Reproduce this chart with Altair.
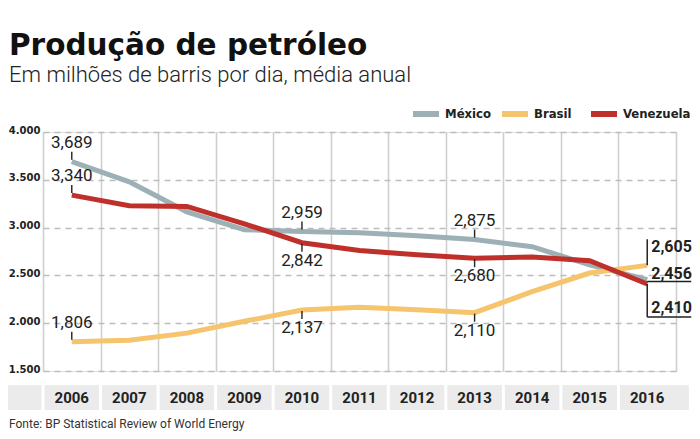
import altair as alt
import pandas as pd

# ---- data ----
years = [2006, 2007, 2008, 2009, 2010, 2011, 2012, 2013, 2014, 2015, 2016]
mexico = [3689, 3479, 3165, 2978, 2959, 2945, 2915, 2875, 2800, 2610, 2456]
brasil = [1806, 1822, 1896, 2020, 2137, 2167, 2140, 2110, 2330, 2525, 2605]
venezuela = [3340, 3229, 3222, 3040, 2842, 2760, 2715, 2680, 2692, 2654, 2410]
series_names = ["México", "Brasil", "Venezuela"]
series_colors = ["#9cb0b5", "#f5c46c", "#c0302b"]
y_ticks = [1500, 2000, 2500, 3000, 3500, 4000]

# annotated points: (series, year, position)
annot_series = ["México", "Venezuela", "Brasil", "México", "Venezuela", "Brasil",
                "México", "Venezuela", "Brasil"]
annot_years = [2006, 2006, 2006, 2010, 2010, 2010, 2013, 2013, 2013]
annot_pos = ["above", "above", "above", "above", "below", "below",
             "above", "below", "below"]

title = "Produção de petróleo"
subtitle = "Em milhões de barris por dia, média anual"
source = "Fonte: BP Statistical Review of World Energy"

# layout constants (pixels)
W, H = 633, 239
legend_x = [370, 459, 548]   # swatch left edge of each legend entry
legend_y = -18

values = {"México": mexico, "Brasil": brasil, "Venezuela": venezuela}
rows = []
for s in series_names:
    for yr, v in zip(years, values[s]):
        rows.append({"series": s, "year": yr, "value": v})
df = pd.DataFrame(rows)

ann = pd.DataFrame({
    "series": annot_series,
    "year": annot_years,
    "pos": annot_pos,
})
ann["value"] = [values[s][years.index(y)] for s, y in zip(annot_series, annot_years)]
ann_above = ann[ann.pos == "above"]
ann_below = ann[ann.pos == "below"]

last = df[df.year == years[-1]].copy()

label_expr = "replace(format(datum.value/1000,'.3f'),'.',',')"

x_scale = alt.Scale(domain=[years[0] - 0.5, years[-1] + 0.5], nice=False, zero=False)
y_scale = alt.Scale(domain=[y_ticks[0], y_ticks[-1]], nice=False, zero=False)
color_scale = alt.Scale(domain=series_names, range=series_colors)

X = alt.X("year:Q", scale=x_scale,
          axis=alt.Axis(values=[y - 0.5 for y in years] + [years[-1] + 0.5],
                        labels=False, ticks=False, domain=False, title=None,
                        grid=True, gridColor="#cfcfcf", gridWidth=1.6))
Y = alt.Y("value:Q", scale=y_scale,
          axis=alt.Axis(values=y_ticks, title=None, ticks=False, domain=False,
                        grid=True, gridDash=[6, 5], gridColor="#bdbdbd", gridWidth=1.3,
                        labelExpr="format(datum.value/1000,'.3f')",
                        labelFont="DejaVu Sans", labelFontWeight="bold",
                        labelFontSize=10, labelColor="#222",
                        labelBaseline="alphabetic", labelPadding=3,
                        labelOffset=1))

# cells behind year labels
cell_rows = [{"lo": years[0] - 1.2, "hi": years[0] - 0.5}]
for i, yr in enumerate(years):
    cell_rows.append({"lo": yr - 0.5, "hi": yr + (0.75 if i == len(years) - 1 else 0.5)})
cells = alt.Chart(pd.DataFrame(cell_rows)).mark_rect(
    color="#ebebeb", xOffset=1.5, x2Offset=-1.5).encode(
    x=alt.X("lo:Q", scale=x_scale), x2="hi:Q",
    y=alt.value(H + 14), y2=alt.value(H + 39))

year_labels = alt.Chart(pd.DataFrame({"year": years})).mark_text(
    font="Roboto", fontWeight="bold", fontSize=15, color="#222", baseline="middle"
).encode(x=alt.X("year:Q", scale=x_scale), y=alt.value(H + 27), text="year:N")

base = alt.Chart(df)
lines = base.mark_line(strokeWidth=5, strokeCap="butt").encode(
    x=X, y=Y,
    color=alt.Color("series:N", scale=color_scale, legend=None),
    detail="series:N",
)

# manual legend
legend_layers = []
for name, lx in zip(series_names, legend_x):
    ld = pd.DataFrame({"series": [name]})
    legend_layers.append(alt.Chart(ld).mark_rule(strokeWidth=6).encode(
        x=alt.value(lx), x2=alt.value(lx + 26), y=alt.value(legend_y),
        color=alt.Color("series:N", scale=color_scale, legend=None)))
    legend_layers.append(alt.Chart(ld).mark_text(
        align="left", baseline="middle", font="DejaVu Sans Condensed",
        fontWeight="bold", fontSize=13, color="#222").encode(
        x=alt.value(lx + 32), y=alt.value(legend_y), text="series:N"))

tick_above = alt.Chart(ann_above).mark_rule(
    color="#222", strokeWidth=1.4, yOffset=-2, y2Offset=-10).encode(
    x=alt.X("year:Q", scale=x_scale), y=alt.Y("value:Q", scale=y_scale), y2="value:Q")
tick_below = alt.Chart(ann_below).mark_rule(
    color="#222", strokeWidth=1.4, yOffset=1, y2Offset=9).encode(
    x=alt.X("year:Q", scale=x_scale), y=alt.Y("value:Q", scale=y_scale), y2="value:Q")

txt_kw = dict(font="Roboto", fontSize=17, color="#222")
text_above = alt.Chart(ann_above).mark_text(baseline="bottom", dy=-10, **txt_kw).transform_calculate(
    lbl=label_expr).encode(
    x=alt.X("year:Q", scale=x_scale), y=alt.Y("value:Q", scale=y_scale), text="lbl:N")
text_below = alt.Chart(ann_below).mark_text(baseline="top", dy=10, **txt_kw).transform_calculate(
    lbl=label_expr).encode(
    x=alt.X("year:Q", scale=x_scale), y=alt.Y("value:Q", scale=y_scale), text="lbl:N")

# 2016 end labels with brackets
def sub(name):
    return last[last.series == name]

end_kw = dict(font="Roboto", fontWeight="bold", fontSize=16, color="#222", align="left", dx=4)
br_v = alt.Chart(sub("Brasil")).mark_rule(color="#222", strokeWidth=1.5, y2Offset=-26).encode(
    x=alt.X("year:Q", scale=x_scale), y=alt.Y("value:Q", scale=y_scale), y2="value:Q")
br_t = alt.Chart(sub("Brasil")).mark_text(baseline="top", dy=-26, **end_kw).transform_calculate(
    lbl=label_expr).encode(
    x=alt.X("year:Q", scale=x_scale), y=alt.Y("value:Q", scale=y_scale), text="lbl:N")

mx_h = alt.Chart(sub("México")).mark_rule(color="#222", strokeWidth=1.5, yOffset=2, x2Offset=44).encode(
    x=alt.X("year:Q", scale=x_scale), x2="year:Q", y=alt.Y("value:Q", scale=y_scale))
mx_t = alt.Chart(sub("México")).mark_text(baseline="alphabetic", dy=-1, **end_kw).transform_calculate(
    lbl=label_expr).encode(
    x=alt.X("year:Q", scale=x_scale), y=alt.Y("value:Q", scale=y_scale), text="lbl:N")

ve_v = alt.Chart(sub("Venezuela")).mark_rule(color="#222", strokeWidth=1.5, y2Offset=33).encode(
    x=alt.X("year:Q", scale=x_scale), y=alt.Y("value:Q", scale=y_scale), y2="value:Q")
ve_h = alt.Chart(sub("Venezuela")).mark_rule(color="#222", strokeWidth=1.5, yOffset=33, x2Offset=44).encode(
    x=alt.X("year:Q", scale=x_scale), x2="year:Q", y=alt.Y("value:Q", scale=y_scale))
ve_t = alt.Chart(sub("Venezuela")).mark_text(baseline="alphabetic", dy=29, **end_kw).transform_calculate(
    lbl=label_expr).encode(
    x=alt.X("year:Q", scale=x_scale), y=alt.Y("value:Q", scale=y_scale), text="lbl:N")

src = alt.Chart(pd.DataFrame({"t": [source]})).mark_text(
    font="Roboto", fontSize=12, color="#333", align="left", baseline="alphabetic"
).encode(x=alt.value(-34), y=alt.value(H + 57), text="t:N")

chart = alt.layer(
    cells, year_labels, lines, *legend_layers, tick_above, tick_below, text_above, text_below,
    br_v, br_t, mx_h, mx_t, ve_v, ve_h, ve_t, src
).properties(
    width=W, height=H,
    autosize="none",
    padding={"left": 35, "top": 124, "right": 16, "bottom": 60},
    title=alt.TitleParams(
        text=title, subtitle=subtitle, anchor="start", frame="group", dx=-34,
        offset=21, font="DejaVu Sans", fontSize=29.5, fontWeight="bold",
        color="#111", subtitleFont="Roboto", subtitleFontSize=22,
        subtitleFontWeight=300, subtitleColor="#222", subtitlePadding=4),
).configure_view(stroke=None).configure(background="white")

chart.save("out.html", embed_options={"renderer": "svg", "actions": False})
